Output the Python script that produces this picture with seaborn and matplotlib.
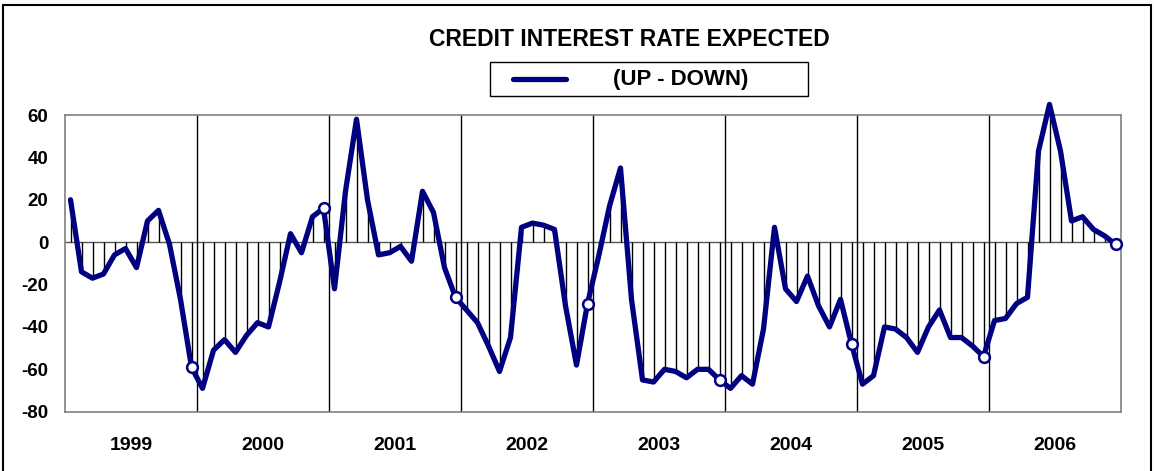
import matplotlib
matplotlib.use("Agg")
import matplotlib.pyplot as plt
import matplotlib.patches as mpatches
import matplotlib.lines as mlines
import seaborn as sns
import pandas as pd
import numpy as np

# monthly balance (up - down), Jan 1999 .. Dec 2006
years = ["1999", "2000", "2001", "2002", "2003", "2004", "2005", "2006"]
v1999 = [20, -14, -17, -15, -6, -3, -12, 10, 15, -1, -27, -59]
v2000 = [-69, -51, -46, -52, -44, -38, -40, -19, 4, -5, 12, 16]
v2001 = [-22, 24, 58, 20, -6, -5, -2, -9, 24, 14, -12, -26]
v2002 = [-32, -38, -49, -61, -45, 7, 9, 8, 6, -30, -58, -29]
v2003 = [-7, 17, 35, -27, -65, -66, -60, -61, -64, -60, -60, -65]
v2004 = [-69, -63, -67, -41, 7, -22, -28, -16, -30, -40, -27, -48]
v2005 = [-67, -63, -40, -41, -45, -52, -40, -32, -45, -45, -49, -54]
v2006 = [-37, -36, -29, -26, 43, 65, 43, 10, 12, 6, 3, -1]

values = v1999 + v2000 + v2001 + v2002 + v2003 + v2004 + v2005 + v2006
df = pd.DataFrame({"month": np.arange(len(values)) + 0.5, "value": values})
dec = df.iloc[11::12]

navy = "#000080"

sns.set_style("white")
plt.rcParams["font.family"] = ["Liberation Sans", "DejaVu Sans"]
plt.rcParams["font.weight"] = "bold"
plt.rcParams["text.color"] = "black"
plt.rcParams["xtick.color"] = "black"
plt.rcParams["ytick.color"] = "black"
plt.rcParams["axes.unicode_minus"] = False

fig = plt.figure(figsize=(11.54, 4.71), dpi=100)
ax = fig.add_axes([65 / 1154, 1 - 411.7 / 471, (1121 - 65) / 1154, (411.7 - 115) / 471])

# stems to zero
ax.vlines(df["month"], 0, df["value"], color="black", lw=1.0, zorder=2)
ax.axhline(0, color="#555555", lw=1.0, zorder=1)
for k in range(1, len(years)):
    ax.axvline(12 * k, color="black", lw=1.0, zorder=1)

sns.lineplot(data=df, x="month", y="value", color=navy, lw=3.8,
             ax=ax, zorder=3, clip_on=False)
sns.scatterplot(data=dec, x="month", y="value", color="white",
                edgecolor=navy, linewidth=1.8, s=60, ax=ax, zorder=4,
                clip_on=False)

ax.set_xlim(0, 96)
ax.set_ylim(-80, 60)
ax.set_yticks(range(-80, 61, 20))
ax.set_xticks([12 * k + 6 for k in range(len(years))], labels=years)
ax.tick_params(axis="y", length=0, pad=12, labelsize=13.5)
ax.tick_params(axis="x", length=0, pad=18, labelsize=14)
for lab in ax.get_xticklabels() + ax.get_yticklabels():
    lab.set_fontweight("bold")
ax.set_xlabel("")
ax.set_ylabel("")
for s in ax.spines.values():
    s.set_color("#808080")
    s.set_linewidth(1.2)

# title and legend box
fig.text(629 / 1154, 1 - 40 / 471, "CREDIT INTEREST RATE EXPECTED",
         ha="center", va="center", fontsize=16.5, fontweight="bold")
fig.patches.append(mpatches.Rectangle((490 / 1154, 1 - 96 / 471), 318 / 1154, 34 / 471,
                                      transform=fig.transFigure, fill=False,
                                      edgecolor="black", lw=1.0))
fig.lines.append(mlines.Line2D([513 / 1154, 566 / 1154], [1 - 79 / 471, 1 - 79 / 471],
                               transform=fig.transFigure, color=navy, lw=3.8))
fig.text(681 / 1154, 1 - 79 / 471, "(UP - DOWN)", ha="center", va="center",
         fontsize=16, fontweight="bold")

# outer frame
fig.patches.append(mpatches.Rectangle((3 / 1154, -0.05), 1148 / 1154, 1.05 - 5 / 471,
                                      transform=fig.transFigure, fill=False,
                                      edgecolor="black", lw=1.5))

plt.savefig("out.png", dpi=100)
